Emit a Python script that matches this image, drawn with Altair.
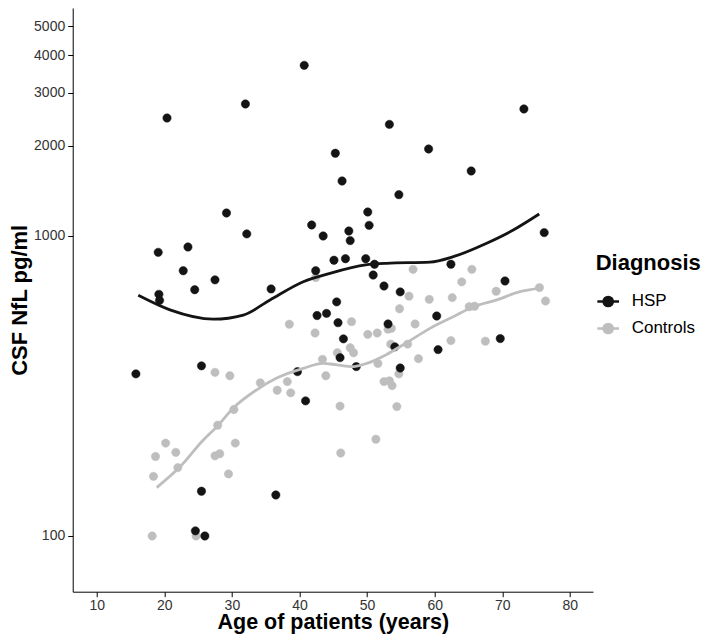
import altair as alt
import pandas as pd

groups = ["HSP", "Controls"]
colors = ["#141414", "#bebebe"]

hsp_age = [40.7, 32.0, 20.4, 29.2, 32.2, 41.8, 43.5, 19.1, 23.5, 22.8, 24.5, 27.5, 35.8,
           42.4, 19.2, 19.3, 42.6, 44.0, 73.2, 53.3, 45.3, 59.1, 65.4, 46.3, 54.7, 50.1,
           50.3, 47.3, 47.5, 76.2, 45.1, 46.8, 49.8, 51.1, 50.9, 62.4, 52.5, 54.9, 70.4,
           45.5, 60.3, 15.8, 25.5, 39.7, 40.9, 25.5, 36.5, 24.6, 26.0, 45.7, 53.1, 46.5,
           54.1, 69.7, 60.5, 46.0, 48.4, 54.9]
hsp_nfl = [3705, 2754, 2473, 1193, 1016, 1088, 1000, 882, 919, 766, 662, 714, 666,
           766, 639, 610, 543, 552, 2651, 2355, 1887, 1950, 1647, 1525, 1373, 1202,
           1085, 1039, 965, 1026, 830, 840, 840, 805, 741, 805, 681, 651, 708,
           603, 541, 347, 369, 353, 282, 141, 137, 104, 100, 514, 509, 454,
           427, 455, 418, 393, 367, 363]

ctrl_age = [56.8, 65.5, 64.0, 69.1, 75.5, 56.2, 59.2, 62.6, 54.8, 65.1, 65.9, 76.4, 38.5,
            42.3, 27.5, 29.7, 43.4, 43.9, 34.2, 36.7, 38.2, 38.7, 30.3, 27.9, 20.2, 18.7,
            21.7, 30.5, 27.5, 28.2, 18.4, 22.0, 29.5, 24.7, 18.2, 47.7, 50.1, 51.5, 53.1,
            53.6, 57.1, 53.5, 56.0, 62.4, 67.5, 47.5, 48.0, 45.6, 51.6, 57.6, 54.7, 52.5,
            53.3, 53.7, 46.0, 54.4, 51.3, 46.1, 42.4]
ctrl_nfl = [774, 774, 703, 654, 673, 630, 615, 623, 572, 581, 583, 607, 508,
            475, 351, 342, 388, 342, 324, 306, 327, 300, 264, 234, 204, 184,
            190, 204, 185, 188, 158, 169, 161, 100, 100, 518, 470, 475, 489,
            492, 509, 436, 436, 448, 446, 424, 408, 408, 376, 390, 347, 327,
            329, 317, 271, 270, 210, 189, 727]

hsp_curve_age = [16.15, 20.84, 27.25, 31.69, 35.64, 40.56, 44.51, 49.79, 52.9, 59.3,
                 62.75, 67.69, 71.63, 75.47]
hsp_curve_nfl = [634, 567, 528, 545, 612, 704, 751, 801, 811, 818, 853, 946, 1047, 1184]

ctrl_curve_age = [18.88, 22.32, 25.77, 27.75, 30.21, 33.67, 36.63, 40.56, 43.52, 45.5,
                  47.96, 49.94, 52.9, 55.86, 59.3, 62.75, 65.71, 69.17, 72.62, 75.33]
ctrl_curve_nfl = [145, 170, 209, 231, 267, 307, 336, 362, 376, 372, 367, 376, 403, 441,
                  492, 538, 581, 612, 652, 669]

x_ticks = [10, 20, 30, 40, 50, 60, 70, 80]
y_ticks = [100, 1000, 2000, 3000, 4000, 5000]

points = pd.concat([
    pd.DataFrame({"age": ctrl_age, "nfl": ctrl_nfl, "Diagnosis": "Controls", "o": 0}),
    pd.DataFrame({"age": hsp_age, "nfl": hsp_nfl, "Diagnosis": "HSP", "o": 1}),
], ignore_index=True)
curves = pd.concat([
    pd.DataFrame({"age": ctrl_curve_age, "nfl": ctrl_curve_nfl, "Diagnosis": "Controls"}),
    pd.DataFrame({"age": hsp_curve_age, "nfl": hsp_curve_nfl, "Diagnosis": "HSP"}),
], ignore_index=True)

FONT = "Liberation Sans"
sym_path = ("M-1,0L1,0M-0.42,0A0.42,0.42,0,1,1,0.42,0A0.42,0.42,0,1,1,-0.42,0Z")

legend = alt.Legend(
    orient="none", legendX=523, legendY=245, title="Diagnosis",
    titleFontSize=22, titleFont=FONT, titleFontWeight="bold", titleColor="#000",
    titlePadding=14, labelFontSize=17, labelFont=FONT, labelColor="#000",
    symbolType=sym_path, symbolSize=470, symbolStrokeWidth=2.6, labelOffset=11,
    rowPadding=4, padding=0, symbolOpacity=1,
)

xs = alt.Scale(domain=[6.45, 83.42], nice=False, zero=False)
ys = alt.Scale(type="log", domain=[65.2, 5754], nice=False)
col = alt.Scale(domain=groups, range=colors)

x_axis = alt.Axis(values=x_ticks, title="Age of patients (years)", grid=False,
                  labelFontSize=14, labelFont=FONT, labelColor="#333",
                  titleFontSize=21.5, titleFont=FONT, titleFontWeight="bold", titleColor="#000",
                  domainColor="#000", tickColor="#000", tickSize=5, labelPadding=2,
                  titleBaseline="alphabetic", titleY=37.3)
y_axis = alt.Axis(values=y_ticks, format="d", title="CSF NfL pg/ml", grid=False,
                  labelFontSize=14, labelFont=FONT, labelColor="#333",
                  titleFontSize=22, titleFont=FONT, titleFontWeight="bold", titleColor="#000",
                  domainColor="#000", tickColor="#000", tickSize=5, labelPadding=3,
                  titleBaseline="alphabetic", titleX=-46)

pts = alt.Chart(points).mark_point(filled=True, size=70, opacity=1, strokeWidth=0.5).encode(
    x=alt.X("age:Q", scale=xs, axis=x_axis),
    y=alt.Y("nfl:Q", scale=ys, axis=y_axis),
    fill=alt.Fill("Diagnosis:N", scale=col, legend=legend),
    stroke=alt.Stroke("Diagnosis:N", scale=col, legend=legend),
    order=alt.Order("o:Q"),
)

lines = alt.Chart(curves).mark_line(strokeWidth=2.8, interpolate="monotone").encode(
    x=alt.X("age:Q", scale=xs),
    y=alt.Y("nfl:Q", scale=ys),
    stroke=alt.Stroke("Diagnosis:N", scale=col, legend=legend),
    detail="Diagnosis:N",
)

chart = alt.layer(pts, lines).properties(
    width=520.3, height=583.7,
    autosize=alt.AutoSizeParams(type="none"),
    padding={"left": 64.7, "top": 0, "right": 108, "bottom": 42.2},
).configure_view(stroke=None)

chart.save("out.html", embed_options={"renderer": "svg", "actions": False})
